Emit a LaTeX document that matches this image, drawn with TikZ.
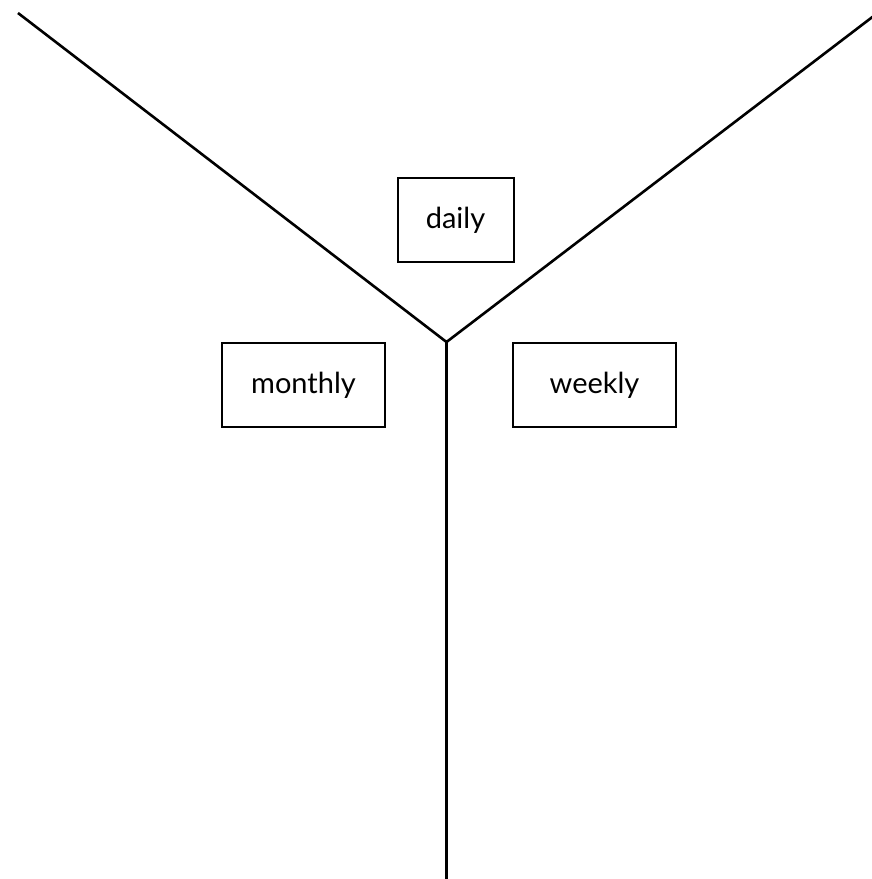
\documentclass[tikz,border=0pt]{standalone}
\usepackage{fontspec}
\setmainfont{Lato}
\begin{document}
\begin{tikzpicture}[x=1pt,y=-1pt,
  lbl/.style={draw=black, line width=2pt, inner sep=0pt, font=\fontsize{29}{33}\selectfont},
  stem/.style={line width=2.6pt, black}]
\useasboundingbox (0,0) rectangle (872,879);
\clip (0,0) rectangle (872,879);
\coordinate (J) at (446.5,342);
\coordinate (TL) at (18,13);
\coordinate (TR) at (875,15);
\coordinate (B) at (446.5,882);
\draw[stem, line join=miter] (TL) -- (J) -- (TR);
\draw[stem] (J) -- (B);
\node[lbl, minimum width=116pt, minimum height=84pt] (daily) at (455.5,220) {daily};
\node[lbl, minimum width=163pt, minimum height=84pt] (monthly) at (303.5,385) {monthly};
\node[lbl, minimum width=163pt, minimum height=84pt] (weekly) at (594.5,385) {weekly};
\end{tikzpicture}
\end{document}
